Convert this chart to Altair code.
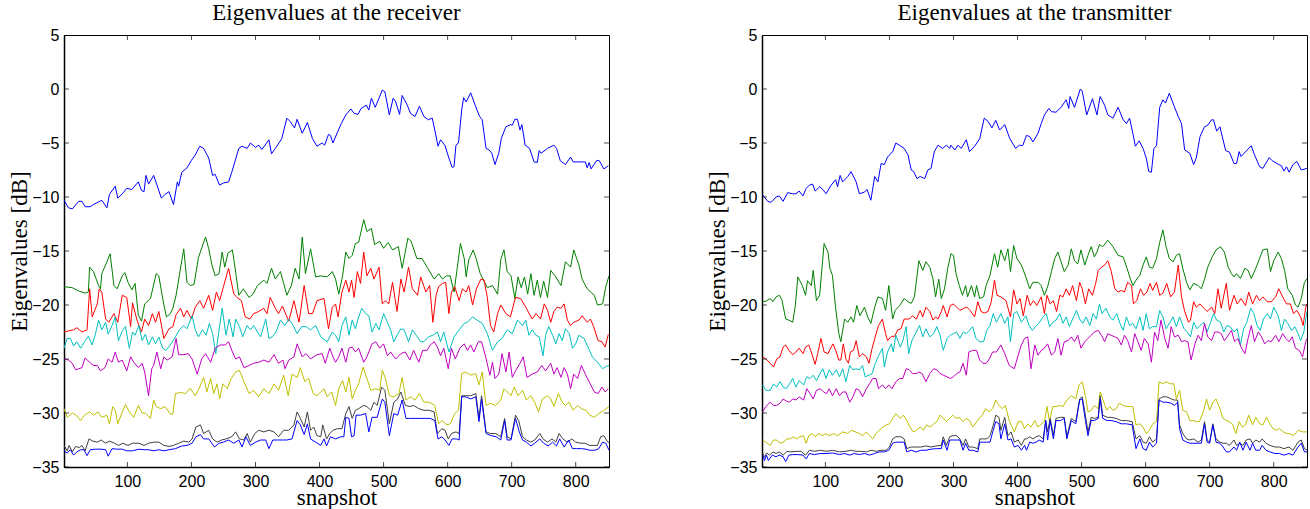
import altair as alt
import pandas as pd

# ---------------- data (snapshot, dB) ----------------
SNAP_TICKS = [100, 200, 300, 400, 500, 600, 700, 800]
DB_TICKS = [-35, -30, -25, -20, -15, -10, -5, 0, 5]
COLORS = ["#0000ff", "#008000", "#ff0000", "#00bfbf", "#bf00bf", "#bfbf00", "#404040", "#0000ff"]
TITLES = ["Eigenvalues at the receiver", "Eigenvalues at the transmitter"]

RX1 = [(1,-10.3),(8,-11.0),(14,-11.1),(24,-10.4),(29,-10.4),(34,-10.9),(42,-10.9),(47,-10.7),(60,-10.3),(68,-11.0),(72,-9.75),(81,-9.0),(85,-10.1),(92,-9.7),(99,-9.2),(107,-9.3),(117,-8.6),(122,-9.4),(126,-9.5),(129,-8.0),(133,-8.8),(141,-8.0),(153,-10.1),(159,-9.75),(165,-9.5),(172,-10.7),(178,-8.6),(180,-9.0),(185,-7.7),(193,-7.3),(200,-6.6),(206,-6.1),(213,-5.3),(219,-5.5),(227,-6.4),(233,-8.0),(237,-7.9),(244,-8.9),(250,-8.7),(258,-8.6),(263,-7.7),(274,-5.5),(279,-5.3),(287,-5.5),(292,-5.0),(300,-5.4),(305,-5.2),(310,-5.6),(321,-4.7),(325,-6.0),(331,-5.5),(341,-4.6),(349,-2.7),(354,-3.0),(361,-3.6),(365,-2.8),(373,-4.1),(381,-3.1),(389,-4.6),(396,-5.3),(404,-5.0),(408,-5.2),(414,-4.2),(417,-4.3),(421,-5.0),(428,-4.0),(434,-3.2),(441,-2.4),(449,-1.85),(454,-2.25),(460,-2.35),(465,-1.8),(473,-1.5),(477,-1.95),(481,-0.85),(487,-1.7),(498,-0.1),(502,-0.25),(509,-2.4),(515,-0.85),(519,-1.2),(525,-2.35),(529,-0.6),(537,-1.5),(542,-2.25),(549,-2.55),(556,-1.6),(563,-2.55),(570,-2.85),(576,-2.7),(580,-3.8),(585,-5.3),(589,-4.7),(596,-5.25),(602,-6.4),(607,-7.25),(610,-7.2),(613,-5.2),(617,-5.0),(622,-1.95),(625,-0.8),(629,-1.2),(636,-0.35),(643,-1.5),(650,-2.55),(654,-2.85),(660,-5.5),(665,-5.65),(669,-5.95),(674,-7.0),(680,-5.9),(684,-4.55),(691,-3.5),(698,-3.3),(701,-3.35),(705,-2.8),(709,-2.8),(713,-3.8),(716,-3.3),(721,-5.2),(728,-5.5),(735,-6.75),(740,-6.8),(743,-5.7),(746,-5.95),(756,-5.5),(766,-5.2),(770,-5.5),(776,-6.65),(784,-7.0),(792,-6.3),(796,-6.75),(808,-6.75),(815,-6.75),(818,-7.3),(821,-6.8),(824,-7.4),(833,-6.6),(837,-6.65),(844,-7.4),(851,-7.1)]
RX2 = [(1,-18.3),(14,-18.4),(24,-18.7),(34,-18.9),(39,-18.8),(41,-16.5),(47,-16.9),(55,-18.2),(58,-18.5),(60,-17.1),(68,-16.0),(73,-15.25),(79,-18.2),(84,-18.5),(92,-17.3),(96,-17.0),(101,-17.9),(107,-18.6),(112,-18.0),(117,-20.9),(122,-21.5),(127,-19.9),(136,-19.4),(145,-17.1),(149,-17.3),(157,-20.0),(161,-21.1),(167,-20.8),(171,-20.3),(176,-19.1),(181,-17.3),(188,-14.8),(193,-17.9),(198,-18.2),(204,-18.1),(211,-15.6),(222,-13.7),(227,-14.8),(232,-16.3),(237,-17.3),(243,-17.1),(248,-15.1),(252,-16.5),(257,-15.2),(264,-14.9),(269,-16.95),(274,-19.1),(281,-18.5),(290,-19.3),(296,-19.0),(303,-18.2),(313,-17.7),(318,-18.0),(325,-16.6),(331,-17.6),(339,-16.9),(344,-18.0),(349,-19.1),(356,-18.2),(362,-16.6),(368,-17.6),(373,-13.7),(378,-17.1),(386,-14.8),(394,-17.4),(402,-17.3),(412,-17.4),(420,-16.9),(425,-17.6),(430,-19.0),(436,-17.3),(441,-15.1),(446,-15.7),(451,-15.4),(456,-14.3),(461,-14.2),(469,-12.1),(474,-13.2),(481,-12.9),(486,-14.4),(494,-14.1),(500,-14.75),(507,-14.2),(514,-14.9),(523,-14.6),(529,-16.6),(538,-13.8),(543,-14.1),(552,-15.7),(560,-15.7),(568,-16.5),(579,-17.6),(586,-17.1),(592,-17.6),(598,-17.3),(604,-17.3),(610,-18.8),(615,-16.6),(620,-14.3),(626,-15.7),(629,-17.4),(633,-15.8),(640,-14.9),(645,-15.8),(651,-17.1),(662,-18.4),(670,-18.2),(678,-19.0),(683,-15.8),(688,-14.9),(693,-16.9),(699,-17.3),(705,-19.4),(710,-17.4),(715,-18.4),(720,-17.4),(725,-19.0),(730,-17.1),(735,-19.1),(740,-17.7),(745,-19.3),(750,-17.8),(756,-19.3),(761,-16.8),(769,-17.4),(777,-18.2),(784,-16.0),(792,-16.5),(797,-14.9),(805,-16.3),(810,-17.6),(818,-18.5),(829,-19.1),(834,-20.0),(842,-19.9),(847,-18.3),(852,-17.3)]
RX3 = [(1,-22.5),(8,-22.4),(16,-22.3),(21,-22.1),(29,-22.5),(37,-22.3),(41,-18.5),(45,-21.1),(49,-20.5),(53,-19.9),(56,-18.5),(60,-18.8),(66,-21.3),(71,-21.6),(79,-20.8),(85,-21.6),(92,-19.1),(99,-19.3),(105,-22.0),(108,-19.8),(115,-21.4),(122,-22.5),(127,-21.3),(133,-21.9),(139,-20.8),(144,-21.6),(149,-20.6),(157,-23.1),(165,-22.2),(171,-22.0),(176,-20.9),(183,-20.3),(188,-21.1),(193,-20.5),(200,-21.3),(206,-20.2),(213,-19.6),(219,-20.3),(227,-19.1),(233,-20.5),(239,-18.8),(244,-19.6),(250,-18.3),(258,-16.6),(266,-18.95),(271,-19.3),(278,-19.6),(284,-21.1),(291,-21.3),(297,-20.8),(305,-20.6),(313,-20.3),(318,-20.8),(323,-19.3),(331,-20.3),(336,-20.8),(342,-20.1),(352,-21.5),(360,-19.6),(368,-21.6),(376,-18.2),(383,-20.8),(389,-20.8),(396,-19.6),(407,-19.4),(414,-22.2),(420,-20.2),(425,-19.9),(429,-21.1),(435,-18.8),(441,-17.7),(446,-18.8),(450,-17.7),(454,-19.3),(459,-16.9),(464,-18.0),(469,-15.1),(474,-17.3),(480,-16.6),(485,-17.6),(493,-16.5),(498,-19.9),(503,-19.6),(508,-19.9),(514,-17.9),(521,-20.6),(527,-17.6),(532,-18.8),(539,-16.5),(545,-18.5),(553,-19.1),(558,-17.4),(566,-18.8),(572,-18.2),(577,-21.6),(582,-19.1),(586,-18.3),(592,-18.0),(597,-17.9),(602,-20.8),(606,-18.8),(611,-18.3),(618,-19.6),(623,-18.5),(629,-18.8),(633,-18.2),(639,-20.0),(645,-18.5),(652,-17.6),(657,-17.7),(662,-19.3),(667,-21.9),(672,-22.5),(678,-20.8),(683,-20.0),(691,-20.8),(698,-21.1),(706,-19.3),(714,-19.4),(722,-20.2),(732,-21.3),(738,-20.8),(745,-21.3),(751,-19.9),(756,-20.5),(761,-21.6),(766,-20.6),(771,-20.2),(777,-20.3),(782,-19.9),(787,-21.4),(792,-21.9),(797,-21.6),(805,-21.4),(810,-21.0),(818,-21.6),(823,-21.3),(828,-22.0),(835,-23.3),(841,-23.4),(846,-23.9),(851,-22.7)]
RX4 = [(1,-24.0),(6,-23.1),(11,-23.1),(16,-23.8),(21,-23.4),(27,-24.0),(33,-23.4),(39,-22.9),(45,-23.7),(50,-22.7),(55,-21.4),(60,-22.3),(66,-21.6),(70,-22.7),(76,-21.9),(81,-21.1),(86,-23.3),(92,-22.4),(97,-22.0),(103,-24.0),(108,-22.5),(112,-22.8),(118,-21.9),(123,-23.3),(128,-22.7),(133,-23.7),(139,-22.95),(144,-23.6),(149,-22.95),(155,-24.0),(160,-24.2),(167,-23.7),(175,-22.95),(181,-22.3),(188,-21.9),(193,-22.2),(201,-21.0),(206,-22.3),(211,-22.95),(217,-22.3),(223,-22.8),(228,-21.7),(233,-22.65),(238,-24.5),(242,-22.8),(248,-20.3),(254,-22.8),(259,-21.3),(265,-22.95),(269,-21.3),(275,-22.0),(280,-22.95),(287,-21.9),(292,-22.3),(297,-21.9),(303,-22.5),(308,-22.95),(316,-21.3),(321,-23.1),(326,-22.95),(332,-22.5),(339,-21.4),(346,-21.9),(352,-21.3),(357,-21.7),(365,-22.65),(372,-22.0),(379,-22.0),(386,-22.3),(394,-21.9),(402,-22.95),(412,-23.4),(420,-22.5),(425,-22.8),(430,-23.4),(435,-21.9),(441,-21.1),(446,-22.8),(451,-21.4),(456,-22.2),(460,-21.3),(466,-20.3),(472,-20.8),(477,-21.0),(482,-22.5),(488,-21.7),(493,-22.3),(500,-20.8),(506,-21.6),(511,-22.3),(516,-23.4),(521,-22.8),(527,-22.2),(532,-22.3),(539,-23.4),(545,-22.3),(551,-22.8),(558,-23.4),(563,-23.4),(570,-22.95),(577,-22.8),(584,-22.5),(589,-23.4),(594,-22.5),(602,-24.35),(610,-22.95),(618,-22.3),(626,-21.7),(631,-21.6),(639,-21.1),(646,-21.4),(654,-21.7),(662,-22.65),(670,-24.2),(678,-23.4),(685,-23.1),(693,-22.3),(701,-22.65),(709,-21.4),(717,-21.9),(722,-21.4),(727,-22.8),(732,-22.3),(738,-22.8),(743,-22.95),(749,-24.7),(753,-22.8),(758,-22.0),(764,-22.8),(769,-23.6),(774,-22.65),(779,-23.3),(784,-22.2),(790,-22.65),(795,-24.0),(800,-23.6),(805,-22.8),(813,-23.1),(820,-24.0),(826,-24.8),(834,-25.3),(842,-25.9),(847,-25.7),(852,-25.6)]
RX5 = [(1,-25.0),(8,-25.1),(14,-25.4),(19,-26.0),(24,-25.9),(29,-25.8),(34,-24.9),(41,-25.3),(47,-25.6),(53,-25.6),(58,-26.1),(65,-25.8),(70,-25.0),(76,-25.3),(81,-24.35),(86,-25.3),(92,-25.1),(99,-26.1),(105,-24.8),(110,-25.3),(117,-25.8),(123,-25.4),(127,-26.2),(133,-28.4),(138,-25.9),(141,-25.6),(146,-24.35),(152,-25.9),(157,-24.8),(162,-25.1),(170,-24.8),(176,-23.1),(180,-24.6),(188,-24.6),(195,-24.5),(201,-25.0),(209,-26.4),(216,-25.0),(222,-24.5),(230,-25.3),(237,-24.0),(245,-23.7),(253,-23.7),(258,-23.4),(264,-24.35),(269,-25.0),(275,-24.8),(282,-25.8),(290,-25.6),(297,-25.4),(305,-25.3),(313,-25.1),(321,-25.3),(329,-24.6),(336,-25.4),(343,-25.1),(346,-25.9),(352,-25.1),(360,-24.8),(365,-23.6),(373,-24.8),(379,-24.5),(386,-25.0),(396,-24.6),(404,-24.5),(409,-25.4),(416,-24.0),(421,-24.8),(425,-25.3),(430,-24.8),(435,-24.0),(441,-25.3),(446,-24.0),(451,-23.9),(456,-24.35),(461,-24.0),(469,-25.3),(474,-24.8),(482,-23.6),(488,-23.4),(494,-24.0),(500,-23.6),(506,-24.7),(511,-24.35),(519,-25.0),(527,-24.5),(534,-24.35),(541,-25.1),(547,-24.2),(555,-25.3),(561,-24.2),(568,-24.2),(573,-23.7),(579,-23.4),(584,-23.9),(589,-24.7),(594,-24.0),(601,-25.9),(606,-24.0),(612,-25.0),(619,-24.0),(626,-23.6),(631,-24.2),(636,-23.7),(641,-24.35),(648,-23.4),(653,-23.4),(659,-24.7),(666,-26.5),(670,-25.3),(674,-26.8),(680,-26.4),(685,-24.5),(691,-26.2),(696,-24.35),(701,-26.7),(706,-26.1),(713,-25.4),(718,-24.8),(724,-26.7),(732,-26.4),(740,-26.2),(747,-25.6),(753,-26.1),(761,-25.4),(766,-26.4),(771,-25.8),(777,-26.7),(782,-25.8),(787,-26.4),(792,-27.75),(797,-26.4),(803,-26.8),(809,-25.6),(815,-26.4),(821,-27.1),(829,-28.05),(835,-28.2),(841,-27.6),(846,-28.05),(851,-27.75)]
RX6 = [(1,-29.6),(6,-30.4),(14,-30.0),(20,-30.2),(27,-30.7),(33,-30.2),(41,-29.9),(47,-30.2),(54,-29.9),(60,-30.4),(68,-30.2),(72,-31.0),(77,-29.4),(81,-29.75),(85,-31.0),(92,-29.9),(97,-29.2),(103,-29.9),(110,-30.4),(117,-29.3),(123,-30.0),(128,-30.0),(136,-30.5),(141,-28.8),(145,-29.4),(152,-29.6),(159,-29.4),(167,-30.1),(171,-30.1),(175,-28.2),(183,-28.1),(191,-28.2),(198,-27.7),(206,-28.4),(213,-27.6),(219,-26.7),(224,-28.05),(230,-26.8),(235,-28.2),(240,-27.3),(244,-28.7),(249,-27.3),(256,-27.75),(262,-26.8),(269,-26.2),(275,-26.05),(282,-27.1),(290,-28.2),(297,-27.9),(305,-28.5),(313,-27.75),(321,-28.2),(329,-27.3),(336,-27.9),(344,-26.5),(351,-28.4),(357,-26.4),(365,-26.7),(370,-25.8),(377,-27.1),(383,-26.8),(390,-28.2),(396,-28.4),(407,-27.75),(412,-28.5),(419,-28.05),(425,-29.3),(430,-27.75),(436,-27.0),(441,-28.05),(446,-26.7),(451,-28.7),(456,-27.9),(461,-27.3),(468,-25.75),(474,-26.8),(480,-27.9),(488,-27.75),(494,-27.9),(498,-26.05),(503,-26.8),(509,-28.4),(516,-28.5),(524,-28.2),(529,-26.7),(535,-28.8),(542,-28.5),(549,-28.8),(556,-28.2),(563,-29.0),(571,-29.0),(580,-29.3),(586,-31.0),(591,-30.7),(599,-31.1),(604,-31.0),(611,-30.05),(617,-29.75),(622,-26.35),(628,-26.2),(636,-26.5),(644,-26.35),(649,-27.4),(654,-26.2),(660,-29.3),(667,-29.1),(675,-29.3),(683,-28.8),(688,-27.75),(693,-28.05),(699,-28.4),(704,-27.6),(710,-28.4),(717,-27.9),(723,-28.8),(730,-28.4),(736,-29.0),(742,-29.9),(748,-28.7),(756,-28.4),(761,-28.7),(766,-29.4),(773,-28.2),(779,-29.0),(784,-29.3),(790,-29.0),(796,-29.75),(803,-29.3),(809,-29.6),(816,-29.75),(822,-30.2),(829,-30.4),(836,-30.05),(844,-29.75),(852,-29.4)]
RX7 = [(1,-33.0),(6,-33.5),(9,-33.0),(14,-33.6),(19,-33.1),(25,-33.2),(29,-33.0),(34,-33.5),(40,-32.4),(46,-32.6),(53,-32.7),(59,-32.5),(66,-32.8),(72,-32.6),(80,-32.8),(86,-33.0),(93,-32.8),(101,-33.0),(108,-32.8),(118,-32.8),(126,-33.0),(133,-32.8),(141,-32.7),(149,-32.7),(157,-33.0),(165,-33.1),(172,-33.0),(180,-32.8),(188,-32.6),(196,-32.7),(201,-32.4),(207,-31.3),(214,-31.1),(219,-31.9),(227,-31.6),(233,-32.4),(240,-32.7),(247,-32.5),(254,-32.4),(263,-32.2),(269,-31.75),(275,-32.4),(282,-32.5),(287,-31.9),(292,-32.7),(299,-31.9),(305,-31.6),(313,-31.75),(321,-31.6),(329,-31.75),(336,-32.2),(344,-31.6),(352,-31.6),(360,-31.1),(365,-29.9),(370,-30.5),(376,-31.3),(381,-29.9),(386,-31.6),(391,-31.3),(396,-32.1),(402,-32.2),(405,-31.1),(411,-32.4),(416,-31.9),(421,-31.6),(428,-31.45),(435,-31.45),(441,-30.05),(446,-29.4),(451,-30.5),(456,-29.75),(461,-29.6),(469,-29.3),(474,-29.4),(480,-29.75),(485,-29.0),(490,-29.3),(497,-27.6),(502,-27.9),(509,-31.0),(516,-29.0),(522,-28.7),(527,-28.05),(534,-29.3),(541,-29.4),(547,-29.3),(555,-29.6),(563,-29.75),(571,-29.75),(579,-29.9),(584,-31.9),(591,-31.45),(596,-31.6),(601,-32.4),(606,-31.9),(613,-31.75),(618,-31.9),(622,-28.4),(628,-28.4),(636,-28.4),(644,-28.2),(649,-30.5),(653,-28.4),(660,-31.75),(667,-31.9),(675,-31.9),(683,-32.2),(689,-30.5),(693,-32.2),(699,-32.4),(706,-30.2),(711,-30.7),(717,-32.2),(723,-32.5),(730,-32.7),(736,-32.5),(744,-31.9),(749,-32.4),(756,-32.7),(763,-32.4),(769,-32.7),(774,-31.9),(780,-32.4),(787,-32.7),(794,-32.4),(800,-32.7),(808,-32.8),(815,-32.8),(821,-33.0),(827,-33.0),(834,-33.0),(839,-32.2),(844,-32.1),(850,-32.7),(852,-32.7)]
RX8 = [(1,-33.5),(6,-33.7),(11,-33.4),(16,-33.9),(21,-33.6),(27,-33.4),(32,-33.4),(37,-33.95),(42,-33.4),(50,-33.35),(59,-33.35),(66,-33.4),(70,-34.0),(76,-33.3),(84,-33.35),(92,-33.35),(99,-33.5),(108,-33.5),(118,-33.35),(126,-33.4),(133,-33.4),(141,-33.5),(149,-33.4),(157,-33.5),(165,-33.4),(175,-33.3),(185,-33.05),(193,-33.0),(201,-32.8),(207,-32.2),(214,-32.0),(219,-32.4),(227,-32.4),(236,-33.15),(243,-32.8),(250,-32.7),(258,-32.5),(266,-32.8),(274,-32.5),(279,-33.15),(285,-32.2),(292,-33.0),(300,-32.7),(308,-32.5),(316,-32.5),(321,-33.3),(327,-32.5),(334,-32.5),(342,-32.5),(349,-32.5),(357,-32.4),(365,-30.7),(370,-31.1),(376,-32.0),(381,-31.0),(386,-32.4),(394,-32.7),(402,-33.0),(407,-32.4),(411,-33.05),(417,-32.2),(425,-32.4),(433,-32.2),(438,-32.2),(441,-30.4),(446,-30.5),(450,-32.2),(454,-32.1),(457,-30.2),(464,-30.2),(472,-30.05),(477,-31.75),(482,-30.4),(490,-30.4),(498,-28.7),(502,-29.0),(509,-32.1),(516,-30.05),(522,-30.2),(529,-28.8),(535,-30.5),(542,-30.5),(549,-30.5),(558,-30.5),(566,-30.5),(573,-30.5),(580,-30.7),(585,-32.4),(591,-32.2),(596,-32.5),(602,-33.0),(607,-32.4),(614,-32.4),(618,-32.5),(622,-28.5),(628,-28.5),(636,-28.7),(644,-28.5),(649,-30.8),(653,-28.7),(660,-31.9),(668,-32.1),(676,-32.2),(683,-32.5),(689,-30.7),(693,-32.5),(699,-32.5),(706,-30.5),(712,-31.75),(717,-32.5),(723,-32.7),(730,-33.05),(736,-32.8),(744,-32.4),(750,-32.8),(757,-33.05),(764,-32.7),(770,-33.05),(775,-32.4),(782,-33.15),(789,-32.5),(795,-33.3),(801,-33.3),(809,-33.3),(816,-33.35),(822,-33.45),(830,-33.45),(836,-33.3),(842,-32.7),(847,-32.8),(852,-33.45)]

TX1 = [(2,-9.8),(10,-10.4),(15,-10.5),(23,-10.0),(28,-9.9),(34,-10.4),(41,-9.6),(49,-9.7),(54,-9.7),(59,-9.45),(65,-9.9),(70,-9.2),(75,-8.9),(80,-8.8),(84,-9.45),(91,-9.05),(96,-9.3),(101,-9.7),(109,-8.9),(116,-8.4),(119,-9.05),(123,-8.0),(127,-8.6),(135,-8.1),(140,-7.65),(148,-8.6),(153,-9.7),(161,-9.55),(165,-9.3),(171,-10.3),(177,-8.1),(182,-8.6),(187,-6.9),(192,-7.0),(197,-6.3),(205,-5.8),(210,-5.0),(218,-5.3),(223,-5.5),(229,-6.1),(234,-7.5),(238,-7.65),(243,-8.3),(248,-8.1),(255,-8.3),(260,-7.5),(265,-7.35),(270,-5.8),(276,-5.2),(283,-5.5),(289,-5.2),(294,-5.5),(296,-5.2),(302,-5.65),(307,-5.2),(312,-5.5),(320,-4.7),(325,-5.8),(333,-5.3),(341,-4.6),(348,-2.7),(354,-3.0),(360,-3.6),(366,-2.9),(372,-3.8),(380,-3.3),(388,-4.6),(397,-5.5),(403,-5.2),(408,-5.25),(414,-4.3),(419,-4.4),(424,-4.9),(432,-4.1),(437,-3.2),(442,-2.4),(449,-1.8),(453,-2.1),(460,-2.15),(468,-1.7),(476,-1.0),(480,-1.8),(482,-0.7),(489,-1.7),(498,0.0),(501,-0.2),(508,-2.4),(517,-0.9),(524,-2.4),(529,-0.7),(536,-1.5),(541,-2.4),(549,-2.7),(557,-1.7),(565,-2.85),(570,-3.2),(575,-2.7),(580,-4.1),(584,-5.3),(590,-4.8),(596,-5.5),(601,-6.4),(605,-7.65),(609,-7.7),(613,-5.5),(617,-5.25),(622,-1.7),(627,-1.0),(631,-1.3),(637,-0.4),(644,-1.5),(651,-2.55),(656,-3.2),(661,-5.65),(669,-5.95),(675,-7.0),(679,-6.4),(685,-4.4),(692,-3.5),(697,-3.35),(703,-2.85),(706,-2.85),(711,-3.9),(716,-3.5),(725,-5.7),(731,-5.85),(738,-6.9),(742,-6.9),(746,-5.8),(749,-6.25),(765,-5.25),(770,-6.1),(778,-7.2),(783,-7.35),(793,-6.35),(798,-6.65),(808,-7.0),(812,-7.1),(816,-7.6),(820,-7.2),(824,-7.7),(830,-7.0),(836,-6.7),(843,-7.5),(852,-7.35)]
TX2 = [(2,-19.7),(7,-19.65),(14,-19.4),(18,-19.7),(23,-19.25),(28,-19.1),(32,-19.5),(38,-21.3),(43,-21.4),(49,-21.6),(53,-20.05),(57,-17.4),(64,-18.2),(69,-19.1),(72,-17.75),(78,-18.2),(81,-16.8),(86,-19.6),(91,-19.1),(98,-14.3),(104,-15.1),(107,-16.6),(111,-17.25),(116,-20.3),(121,-22.65),(124,-23.4),(130,-21.3),(135,-21.6),(140,-21.1),(144,-21.6),(149,-20.05),(154,-21.0),(161,-20.2),(166,-21.1),(171,-21.7),(177,-20.2),(182,-19.25),(189,-19.4),(194,-20.5),(199,-18.2),(205,-21.3),(209,-20.5),(216,-20.05),(223,-19.4),(229,-19.7),(234,-19.85),(239,-19.25),(246,-15.9),(252,-16.8),(257,-16.0),(263,-16.5),(268,-17.6),(272,-19.25),(277,-17.6),(281,-19.4),(286,-18.5),(291,-16.6),(296,-15.25),(300,-15.4),(304,-17.1),(309,-18.2),(314,-19.1),(319,-18.2),(322,-19.25),(328,-18.2),(333,-19.25),(336,-18.2),(341,-19.4),(347,-19.25),(351,-18.2),(357,-17.25),(364,-15.25),(369,-16.5),(374,-14.9),(380,-15.9),(385,-14.8),(389,-16.9),(394,-14.5),(399,-15.7),(406,-16.3),(413,-17.4),(419,-18.5),(424,-17.9),(432,-17.9),(437,-18.2),(442,-19.1),(447,-18.3),(453,-16.9),(458,-15.7),(463,-15.1),(468,-16.0),(473,-16.9),(479,-16.3),(484,-14.8),(489,-15.9),(494,-16.2),(499,-14.9),(505,-16.3),(510,-15.4),(515,-14.6),(520,-15.55),(524,-15.1),(528,-14.4),(533,-14.6),(541,-14.0),(549,-14.6),(557,-15.4),(565,-15.55),(571,-16.6),(576,-17.55),(580,-18.2),(585,-17.7),(591,-17.25),(596,-16.3),(601,-15.55),(606,-16.5),(611,-16.6),(617,-15.7),(622,-14.2),(627,-13.05),(632,-14.6),(637,-15.7),(643,-16.0),(648,-15.4),(653,-15.25),(658,-16.6),(664,-17.9),(669,-18.6),(675,-18.0),(682,-18.2),(687,-18.5),(692,-17.6),(697,-16.5),(704,-15.55),(710,-14.9),(717,-14.6),(723,-15.1),(729,-16.5),(734,-17.1),(738,-17.4),(742,-17.1),(748,-17.55),(755,-16.6),(760,-16.8),(765,-17.55),(772,-16.6),(778,-15.7),(783,-14.9),(790,-14.8),(795,-16.9),(800,-15.9),(807,-15.1),(812,-15.7),(817,-16.8),(822,-18.5),(829,-19.1),(834,-20.0),(838,-20.2),(843,-19.4),(848,-17.9),(852,-17.55)]
TX3 = [(2,-24.8),(7,-25.0),(14,-25.4),(19,-25.75),(24,-25.0),(29,-24.8),(34,-23.9),(38,-23.7),(43,-24.2),(49,-24.6),(54,-24.35),(59,-24.0),(65,-24.5),(69,-23.9),(74,-23.7),(78,-24.35),(84,-25.5),(88,-24.5),(93,-23.1),(98,-24.35),(104,-24.5),(109,-23.9),(112,-23.6),(117,-24.35),(121,-25.1),(124,-25.1),(128,-23.6),(132,-25.0),(136,-25.4),(139,-24.35),(144,-24.2),(148,-23.3),(153,-24.8),(158,-24.5),(164,-24.8),(168,-25.4),(173,-24.0),(178,-22.9),(183,-21.9),(189,-21.3),(194,-22.65),(197,-23.3),(203,-22.9),(208,-22.9),(213,-22.3),(218,-22.2),(223,-21.3),(231,-21.3),(236,-21.0),(242,-21.3),(248,-20.5),(252,-21.1),(257,-20.2),(263,-20.6),(268,-21.4),(272,-21.1),(276,-21.3),(281,-20.6),(284,-20.05),(290,-21.1),(295,-20.05),(300,-19.9),(305,-20.2),(310,-20.5),(316,-20.3),(321,-20.2),(326,-20.5),(333,-21.1),(338,-19.7),(343,-20.6),(348,-20.75),(354,-20.6),(359,-19.7),(364,-17.7),(368,-19.1),(374,-19.25),(382,-19.6),(389,-21.1),(394,-18.6),(399,-19.9),(404,-19.4),(409,-21.0),(415,-19.1),(420,-20.05),(425,-19.6),(430,-20.05),(437,-19.25),(442,-20.8),(446,-19.1),(451,-19.9),(456,-19.6),(461,-20.6),(466,-19.1),(471,-19.25),(476,-18.5),(481,-19.1),(486,-18.2),(492,-19.6),(497,-17.9),(501,-18.5),(506,-19.9),(511,-18.5),(517,-19.1),(522,-18.0),(526,-16.8),(531,-16.5),(536,-16.3),(541,-15.9),(546,-16.8),(552,-18.5),(557,-18.8),(562,-18.65),(567,-18.8),(572,-17.9),(578,-18.2),(581,-19.9),(586,-19.6),(592,-18.5),(597,-19.1),(602,-18.8),(607,-18.0),(611,-18.65),(617,-17.9),(622,-19.1),(627,-18.9),(633,-18.0),(639,-19.25),(645,-18.8),(651,-16.3),(656,-19.25),(661,-20.6),(667,-21.6),(670,-21.4),(675,-19.7),(679,-20.2),(685,-19.9),(691,-20.3),(696,-20.6),(703,-20.2),(708,-20.8),(713,-18.5),(718,-20.3),(726,-18.0),(731,-20.5),(738,-19.1),(743,-19.9),(749,-19.4),(756,-20.05),(761,-18.8),(767,-19.9),(773,-19.1),(778,-19.6),(783,-19.25),(790,-19.7),(796,-19.7),(803,-19.25),(808,-18.5),(814,-19.25),(820,-19.9),(826,-19.9),(831,-20.8),(836,-20.5),(842,-21.1),(846,-21.9),(850,-20.2),(852,-19.9)]
TX4 = [(2,-27.4),(7,-27.9),(14,-27.9),(19,-27.3),(24,-27.6),(29,-27.1),(34,-27.6),(39,-27.75),(44,-27.3),(49,-26.8),(54,-27.6),(59,-27.0),(66,-27.4),(71,-26.65),(76,-26.8),(81,-26.5),(86,-27.0),(92,-26.3),(96,-25.9),(101,-26.8),(106,-26.0),(111,-26.5),(117,-26.0),(122,-26.65),(127,-25.9),(132,-27.1),(138,-25.6),(143,-26.0),(148,-25.9),(153,-26.0),(158,-25.6),(162,-26.65),(168,-26.5),(173,-26.35),(178,-25.4),(183,-24.7),(189,-24.0),(192,-25.75),(197,-24.35),(203,-23.6),(206,-24.35),(210,-22.8),(217,-23.9),(221,-23.3),(226,-22.0),(230,-24.5),(235,-23.3),(242,-22.5),(247,-21.9),(252,-22.95),(257,-22.2),(263,-22.95),(269,-22.65),(274,-22.0),(279,-22.8),(284,-24.2),(290,-23.1),(295,-22.8),(300,-22.65),(305,-22.5),(310,-23.1),(315,-22.5),(320,-22.65),(325,-22.35),(330,-22.0),(335,-23.1),(341,-23.4),(347,-23.4),(352,-22.35),(357,-21.9),(362,-20.8),(367,-21.6),(374,-20.8),(380,-21.7),(385,-21.1),(389,-23.4),(394,-20.8),(399,-20.6),(406,-21.6),(413,-21.0),(418,-21.9),(423,-22.35),(428,-22.0),(433,-21.7),(440,-21.1),(445,-20.8),(450,-22.0),(455,-21.6),(460,-21.4),(466,-20.8),(471,-21.7),(476,-21.1),(481,-22.0),(486,-21.3),(492,-20.5),(497,-21.3),(502,-21.7),(507,-21.1),(513,-21.9),(518,-20.8),(523,-21.3),(528,-19.9),(532,-20.8),(538,-20.3),(544,-21.1),(549,-21.4),(555,-20.8),(560,-21.7),(565,-22.35),(570,-21.1),(575,-21.9),(580,-21.7),(585,-22.2),(591,-21.1),(596,-22.35),(601,-20.8),(606,-22.2),(611,-22.0),(617,-22.0),(622,-20.5),(627,-21.1),(632,-22.2),(638,-21.6),(643,-21.1),(648,-22.0),(653,-21.1),(660,-22.2),(665,-22.5),(670,-22.95),(675,-21.6),(680,-22.2),(685,-21.9),(691,-21.6),(696,-22.5),(701,-21.7),(706,-20.8),(711,-21.4),(717,-21.6),(722,-22.5),(727,-21.9),(732,-22.0),(738,-22.5),(743,-22.2),(748,-23.7),(753,-22.2),(758,-21.6),(764,-20.3),(769,-20.8),(774,-21.9),(779,-22.35),(784,-21.3),(790,-20.8),(795,-21.3),(800,-20.2),(807,-21.0),(812,-22.35),(817,-21.3),(822,-21.7),(828,-22.35),(833,-22.0),(838,-22.65),(842,-23.3),(847,-22.5),(852,-20.6)]
TX5 = [(2,-29.9),(7,-29.4),(14,-29.0),(19,-29.3),(24,-29.3),(29,-29.1),(34,-28.7),(39,-28.9),(44,-29.0),(49,-28.7),(54,-28.8),(59,-28.5),(66,-28.8),(71,-27.75),(76,-28.2),(81,-28.7),(86,-27.9),(92,-27.75),(97,-28.05),(102,-28.2),(106,-27.75),(111,-28.4),(117,-27.75),(122,-28.4),(127,-28.05),(132,-28.05),(138,-29.0),(143,-28.5),(148,-27.75),(153,-27.9),(158,-28.5),(164,-27.75),(169,-27.3),(174,-26.8),(179,-26.8),(183,-27.75),(189,-27.4),(194,-27.75),(199,-27.4),(204,-27.75),(210,-27.1),(216,-26.8),(221,-26.8),(226,-25.9),(231,-26.0),(236,-26.35),(242,-26.35),(246,-26.2),(251,-26.35),(257,-27.1),(263,-26.35),(269,-25.9),(274,-26.0),(279,-26.35),(284,-26.5),(290,-26.65),(295,-26.8),(300,-26.65),(305,-26.35),(310,-26.2),(315,-25.4),(320,-26.5),(324,-24.35),(330,-24.2),(336,-24.2),(341,-25.1),(346,-25.4),(351,-25.4),(356,-25.0),(361,-24.35),(367,-24.35),(374,-23.7),(380,-24.5),(387,-25.6),(395,-25.9),(401,-24.65),(406,-23.7),(411,-23.1),(416,-22.95),(421,-25.9),(427,-23.7),(432,-24.65),(437,-24.2),(442,-24.0),(447,-23.6),(453,-24.65),(458,-24.35),(463,-23.1),(468,-24.65),(473,-23.4),(479,-23.3),(484,-22.95),(489,-23.4),(494,-22.8),(499,-24.0),(505,-23.4),(510,-23.1),(515,-22.8),(520,-22.5),(526,-22.35),(531,-22.8),(536,-23.4),(541,-22.65),(546,-22.8),(552,-22.95),(557,-23.1),(562,-23.7),(567,-22.8),(572,-23.3),(578,-24.35),(583,-22.65),(588,-23.4),(593,-24.2),(598,-23.1),(604,-23.6),(609,-25.3),(614,-22.5),(619,-23.3),(624,-21.4),(630,-23.1),(635,-24.0),(640,-22.0),(645,-22.95),(651,-22.8),(656,-23.4),(661,-23.3),(666,-23.4),(671,-25.1),(677,-23.6),(682,-22.8),(687,-23.3),(692,-21.7),(697,-22.95),(703,-23.3),(708,-22.5),(713,-22.5),(718,-22.65),(723,-23.3),(729,-22.8),(734,-22.35),(739,-23.4),(744,-23.1),(749,-23.9),(755,-24.5),(760,-23.1),(765,-21.9),(770,-23.4),(776,-22.5),(781,-22.95),(786,-23.6),(791,-23.3),(796,-23.4),(803,-22.8),(808,-23.4),(814,-22.65),(819,-23.1),(824,-23.4),(829,-22.95),(834,-24.0),(840,-24.2),(845,-24.8),(850,-23.4),(852,-23.1)]
TX6 = [(2,-32.5),(7,-32.7),(14,-33.0),(19,-32.5),(24,-32.5),(29,-32.8),(34,-32.7),(40,-32.4),(45,-32.4),(50,-32.2),(55,-32.4),(60,-32.2),(66,-32.1),(70,-32.8),(74,-32.1),(79,-31.9),(84,-32.2),(90,-31.9),(95,-32.1),(101,-31.9),(106,-32.1),(113,-31.9),(119,-32.1),(127,-31.75),(135,-31.9),(140,-31.6),(147,-31.75),(153,-31.9),(158,-32.1),(164,-31.75),(169,-32.1),(174,-32.4),(179,-31.9),(184,-31.6),(190,-31.3),(195,-31.1),(200,-31.0),(205,-30.5),(210,-30.05),(217,-30.5),(222,-30.2),(227,-30.7),(232,-31.3),(237,-31.75),(242,-31.6),(248,-31.3),(253,-31.6),(258,-31.1),(264,-31.3),(269,-31.0),(274,-30.8),(279,-30.2),(283,-30.4),(289,-30.8),(294,-30.5),(299,-30.2),(304,-30.5),(309,-30.4),(315,-30.8),(320,-30.5),(325,-30.7),(330,-31.3),(334,-31.0),(340,-30.5),(345,-30.2),(350,-29.6),(356,-29.9),(361,-29.6),(366,-28.8),(371,-29.3),(376,-29.6),(381,-29.3),(387,-30.7),(390,-31.1),(395,-31.75),(401,-30.8),(406,-30.8),(411,-31.45),(416,-31.0),(421,-31.3),(427,-30.7),(432,-31.3),(437,-31.0),(442,-30.8),(446,-29.4),(450,-30.8),(455,-29.4),(460,-29.4),(466,-29.3),(471,-29.4),(477,-28.8),(484,-28.4),(491,-28.7),(496,-27.4),(501,-27.1),(506,-28.4),(510,-29.9),(515,-29.75),(520,-29.3),(526,-29.6),(529,-28.05),(533,-28.7),(539,-29.75),(544,-29.4),(549,-29.75),(554,-29.6),(559,-29.1),(565,-29.3),(570,-29.4),(575,-29.4),(580,-29.4),(585,-31.1),(591,-31.0),(596,-31.3),(601,-31.9),(606,-31.6),(611,-31.0),(617,-30.8),(621,-27.1),(627,-27.3),(632,-27.1),(638,-27.3),(644,-27.3),(648,-28.7),(653,-27.9),(658,-29.75),(664,-29.9),(669,-30.7),(674,-30.7),(679,-30.8),(684,-30.8),(690,-29.9),(695,-28.7),(700,-29.75),(705,-29.0),(710,-28.7),(716,-29.6),(721,-30.5),(726,-30.7),(731,-30.8),(736,-31.1),(741,-31.9),(746,-30.8),(751,-31.3),(756,-31.1),(761,-30.2),(767,-31.1),(772,-30.4),(778,-31.0),(783,-31.1),(789,-30.4),(794,-31.0),(799,-31.45),(804,-31.6),(809,-31.45),(815,-31.75),(820,-31.9),(825,-31.9),(831,-32.1),(838,-31.6),(845,-31.75),(852,-31.75)]
TX7 = [(2,-33.7),(5,-34.1),(8,-33.7),(13,-33.9),(18,-33.6),(23,-33.75),(28,-33.6),(34,-33.9),(40,-33.55),(46,-33.6),(54,-33.55),(62,-33.55),(69,-33.9),(75,-33.45),(83,-33.55),(92,-33.45),(101,-33.55),(111,-33.45),(122,-33.6),(132,-33.55),(140,-33.45),(148,-33.55),(156,-33.55),(164,-33.6),(171,-33.45),(179,-33.55),(187,-33.45),(195,-33.45),(200,-33.15),(205,-32.4),(210,-32.2),(218,-32.2),(223,-32.4),(227,-33.3),(234,-33.15),(242,-33.15),(249,-33.15),(257,-33.05),(265,-33.15),(273,-33.05),(281,-33.0),(284,-32.2),(289,-33.0),(294,-32.2),(299,-32.1),(305,-32.1),(310,-32.4),(315,-33.0),(319,-32.4),(324,-33.15),(330,-33.15),(338,-33.3),(341,-32.4),(347,-32.4),(352,-32.4),(357,-32.1),(362,-31.15),(366,-30.2),(371,-30.4),(374,-31.6),(380,-30.4),(385,-32.1),(390,-31.75),(395,-32.7),(401,-32.5),(406,-33.0),(411,-32.4),(414,-32.4),(419,-32.2),(424,-32.4),(429,-32.2),(434,-32.1),(440,-32.4),(444,-30.7),(447,-31.75),(451,-30.5),(456,-32.1),(460,-30.5),(467,-30.4),(473,-30.4),(477,-32.2),(484,-30.5),(491,-30.8),(497,-28.7),(501,-28.5),(506,-30.2),(510,-31.75),(515,-30.4),(520,-30.5),(526,-30.4),(529,-28.4),(533,-30.2),(540,-30.4),(546,-30.4),(554,-30.5),(562,-30.7),(570,-30.7),(579,-30.8),(585,-32.4),(591,-32.1),(596,-32.7),(601,-32.8),(606,-32.2),(611,-32.7),(617,-32.4),(621,-28.7),(627,-28.5),(633,-28.5),(640,-28.7),(645,-28.8),(650,-28.8),(653,-31.1),(658,-31.9),(664,-32.4),(669,-32.5),(675,-32.4),(682,-32.7),(687,-32.5),(692,-30.8),(696,-32.5),(700,-32.7),(705,-31.0),(710,-32.4),(716,-32.7),(721,-32.8),(726,-32.8),(731,-33.0),(738,-32.5),(742,-33.0),(747,-32.8),(752,-33.0),(757,-32.5),(763,-32.4),(767,-32.8),(772,-32.5),(778,-32.7),(782,-32.4),(788,-32.8),(794,-33.0),(802,-33.15),(809,-33.15),(816,-33.3),(824,-33.15),(830,-33.45),(838,-32.7),(843,-32.5),(848,-33.3),(852,-33.45)]
TX8 = [(2,-33.9),(5,-34.4),(8,-33.9),(11,-34.4),(17,-33.9),(23,-34.05),(28,-33.9),(34,-34.05),(38,-34.5),(43,-33.9),(49,-33.85),(57,-33.85),(65,-33.9),(70,-34.25),(75,-33.75),(83,-33.85),(92,-33.75),(101,-33.75),(111,-33.7),(122,-33.85),(130,-33.75),(138,-33.9),(145,-33.75),(153,-33.85),(161,-33.75),(169,-33.9),(177,-33.75),(184,-33.6),(192,-33.6),(199,-33.45),(205,-32.8),(210,-32.7),(218,-32.7),(223,-32.7),(227,-33.6),(234,-33.45),(242,-33.6),(249,-33.45),(257,-33.45),(265,-33.35),(273,-33.3),(281,-33.3),(284,-32.5),(290,-33.45),(294,-32.5),(300,-32.5),(305,-32.5),(310,-32.5),(315,-33.45),(319,-32.8),(324,-33.45),(330,-33.45),(338,-33.6),(341,-32.7),(347,-32.7),(352,-32.7),(357,-32.7),(362,-31.6),(366,-30.8),(371,-31.0),(374,-32.4),(380,-31.0),(385,-32.5),(390,-32.4),(395,-33.15),(401,-33.0),(406,-33.45),(411,-33.0),(414,-33.45),(419,-32.7),(424,-32.8),(429,-32.7),(434,-32.5),(440,-32.7),(444,-30.7),(447,-32.5),(451,-30.7),(456,-32.4),(460,-30.7),(467,-30.7),(473,-30.5),(477,-32.4),(484,-30.7),(491,-31.0),(497,-28.8),(501,-28.7),(506,-30.7),(510,-32.1),(515,-30.7),(520,-30.7),(526,-30.5),(529,-28.7),(533,-30.5),(540,-30.7),(546,-30.7),(554,-30.8),(562,-31.0),(570,-31.0),(579,-31.1),(585,-33.3),(591,-32.4),(596,-33.3),(601,-33.45),(606,-32.7),(611,-33.15),(617,-32.8),(621,-28.8),(627,-29.0),(633,-29.0),(640,-29.1),(645,-29.3),(650,-29.0),(653,-31.45),(658,-32.5),(664,-32.7),(669,-32.8),(675,-32.8),(682,-32.8),(687,-32.8),(692,-31.0),(696,-32.7),(700,-32.8),(705,-31.1),(710,-32.7),(716,-32.8),(721,-33.15),(726,-33.6),(731,-33.6),(738,-33.15),(742,-33.45),(747,-32.7),(752,-33.45),(757,-32.7),(763,-33.45),(767,-32.8),(772,-33.45),(778,-33.45),(782,-33.0),(788,-33.45),(794,-33.6),(802,-33.75),(809,-33.75),(816,-33.9),(824,-33.75),(830,-33.9),(838,-33.15),(843,-32.8),(848,-33.6),(852,-33.6)]

RX = [RX1, RX2, RX3, RX4, RX5, RX6, RX7, RX8]
TX = [TX1, TX2, TX3, TX4, TX5, TX6, TX7, TX8]

# ---------------- chart ----------------
W, H = 545, 432
KEYS = [str(i) for i in range(1, 9)]
xs = alt.Scale(domain=[1, 852], nice=False, zero=False)
ys = alt.Scale(domain=[-35, 5], nice=False, zero=False)
X_AXIS = alt.Axis(values=SNAP_TICKS, title="snapshot", labelPadding=6, titlePadding=-3)
Y_AXIS = alt.Axis(values=DB_TICKS, title="Eigenvalues [dB]", labelPadding=5, titlePadding=0)


def frame(series):
    rows = []
    for k, ser in enumerate(series, start=1):
        for s, v in ser:
            rows.append({"k": str(k), "s": s, "v": v})
    return pd.DataFrame(rows)


def panel(series, title):
    df = frame(series)
    lines = alt.Chart(df).mark_line(strokeWidth=1, clip=True).encode(
        x=alt.X("s:Q", scale=xs, axis=X_AXIS),
        y=alt.Y("v:Q", scale=ys, axis=Y_AXIS),
        color=alt.Color("k:N", scale=alt.Scale(domain=KEYS, range=COLORS), legend=None),
    )
    xt = pd.DataFrame({"s": SNAP_TICKS})
    yt = pd.DataFrame({"v": DB_TICKS})
    tick = dict(size=10, thickness=1, color="black", clip=True)
    xtop = alt.Chart(xt).mark_tick(orient="vertical", **tick).encode(
        x=alt.X("s:Q", scale=xs, axis=X_AXIS), y=alt.value(0))
    xbot = alt.Chart(xt).mark_tick(orient="vertical", **tick).encode(
        x=alt.X("s:Q", scale=xs, axis=X_AXIS), y=alt.value(H))
    yl = alt.Chart(yt).mark_tick(orient="horizontal", **tick).encode(
        y=alt.Y("v:Q", scale=ys, axis=Y_AXIS), x=alt.value(0))
    yr = alt.Chart(yt).mark_tick(orient="horizontal", **tick).encode(
        y=alt.Y("v:Q", scale=ys, axis=Y_AXIS), x=alt.value(W))
    return alt.layer(lines, xtop, xbot, yl, yr).properties(
        width=W, height=H,
        title=alt.TitleParams(title, baseline="alphabetic", offset=-16, anchor="middle"),
    )


chart = alt.hconcat(panel(RX, TITLES[0]), panel(TX, TITLES[1]), spacing=96).properties(
    padding={"left": 8, "top": 1, "right": 0, "bottom": 0},
    background="white",
).configure_view(
    stroke="black", strokeWidth=1
).configure_axis(
    grid=False, ticks=False, domain=True, domainColor="black", domainWidth=1.5,
    labelColor="black", titleColor="black",
    labelFont="Liberation Sans", labelFontSize=16,
    titleFont="Liberation Serif", titleFontSize=23, titleFontWeight="normal",
    labelFlush=False, labelOverlap=False,
).configure_title(
    font="Liberation Serif", fontSize=23, fontWeight="normal", color="black"
)

chart.save("out.html", embed_options={"renderer": "svg", "actions": False})
